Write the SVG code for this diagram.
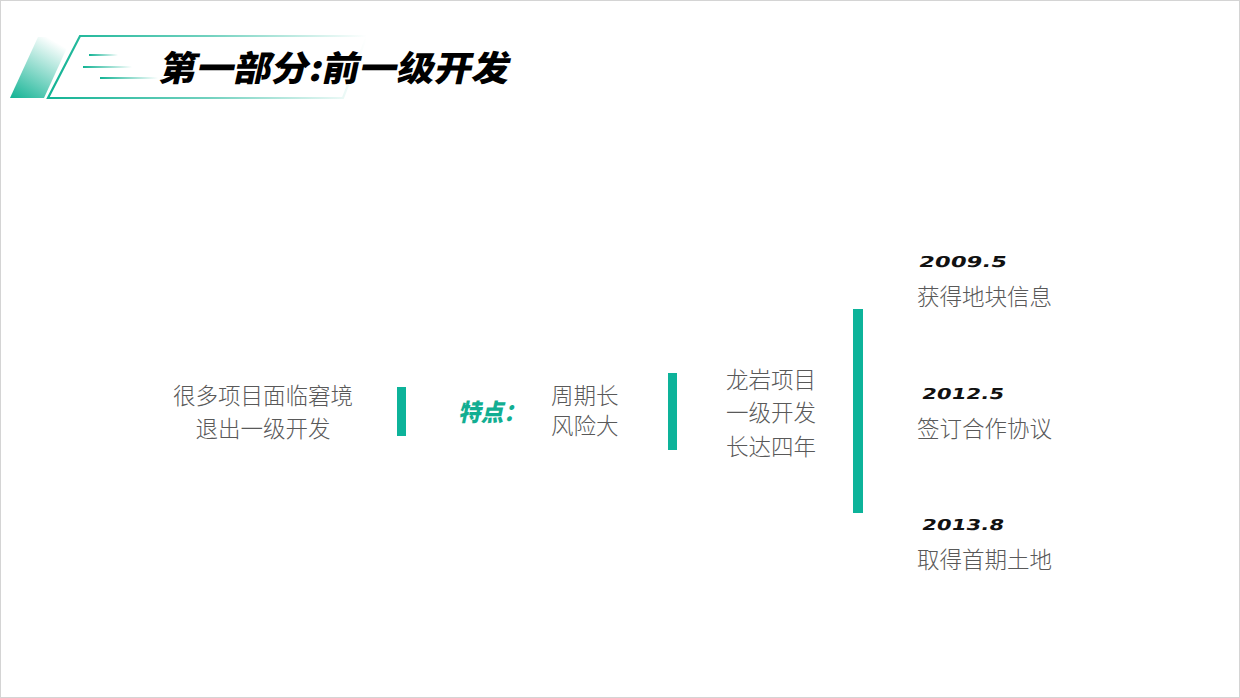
<svg xmlns="http://www.w3.org/2000/svg" width="1240" height="698" viewBox="0 0 1240 698">
<defs>
<linearGradient id="gFill" x1="0" y1="1" x2="0.6" y2="0">
<stop offset="0" stop-color="#12b394"/>
<stop offset="1" stop-color="#12b394" stop-opacity="0"/>
</linearGradient>
<linearGradient id="gLine" x1="0" y1="0" x2="1" y2="0">
<stop offset="0" stop-color="#12b394"/>
<stop offset="0.5" stop-color="#12b394" stop-opacity="0.6"/>
<stop offset="1" stop-color="#12b394" stop-opacity="0"/>
</linearGradient>
<linearGradient id="gSpeed" x1="0" y1="0" x2="1" y2="0">
<stop offset="0" stop-color="#12b394"/>
<stop offset="1" stop-color="#12b394" stop-opacity="0"/>
</linearGradient>
<style>
.t{font-family:"Noto Sans CJK SC","Noto Sans",sans-serif;font-size:22.5px;fill:#595959;font-weight:300}
.d{font-family:"DejaVu Sans",sans-serif;font-weight:bold;font-size:15px;fill:#111}
.bar{fill:#0db39a}
</style>
</defs>
<rect x="0.5" y="0.5" width="1239" height="697" fill="#fff" stroke="#d4d4d4"/>
<g id="header">
<polygon points="10,98 44,98 72,37 38,37" fill="url(#gFill)"/>
<polygon points="48,98 343,98 367,36 80,36" fill="none" stroke="url(#gLine)" stroke-width="2.2"/>
<rect x="89" y="54" width="29" height="2" fill="url(#gSpeed)"/>
<rect x="83" y="66" width="49" height="2" fill="url(#gSpeed)"/>
<rect x="100" y="77" width="58" height="2" fill="url(#gSpeed)"/>
<text transform="translate(158,81) skewX(-12)" x="0" y="0" font-family="Noto Sans CJK SC, sans-serif" font-weight="900" font-size="35" fill="#000" textLength="350" lengthAdjust="spacingAndGlyphs">第一部分:前一级开发</text>
</g>
<g id="node-left">
<text class="t" x="263" y="404" text-anchor="middle">很多项目面临窘境</text>
<text class="t" x="263" y="437" text-anchor="middle">退出一级开发</text>
</g>
<g id="node-feature">
<text transform="translate(458,421) skewX(-12)" font-family="Noto Sans CJK SC, sans-serif" font-weight="900" font-size="24" fill="#12ae92" textLength="68" lengthAdjust="spacingAndGlyphs">特点：</text>
<text class="t" x="551" y="404">周期长</text>
<text class="t" x="551" y="434">风险大</text>
</g>
<g id="node-longyan">
<text class="t" x="726" y="388">龙岩项目</text>
<text class="t" x="726" y="421">一级开发</text>
<text class="t" x="726" y="455">长达四年</text>
</g>
<g id="node-2009">
<text class="d" transform="translate(918,267) skewX(-12)" textLength="88" lengthAdjust="spacingAndGlyphs">2009.5</text>
<text class="t" x="917" y="305">获得地块信息</text>
</g>
<g id="node-2012">
<text class="d" transform="translate(921,399) skewX(-12)" textLength="82" lengthAdjust="spacingAndGlyphs">2012.5</text>
<text class="t" x="917" y="437">签订合作协议</text>
</g>
<g id="node-2013">
<text class="d" transform="translate(921,530) skewX(-12)" textLength="82" lengthAdjust="spacingAndGlyphs">2013.8</text>
<text class="t" x="917" y="568">取得首期土地</text>
</g>
<g id="connectors">
<rect class="bar" x="397" y="387" width="9" height="49"/>
<rect class="bar" x="668" y="373" width="9" height="77"/>
<rect class="bar" x="853" y="309" width="10" height="204"/>
</g>
</svg>
